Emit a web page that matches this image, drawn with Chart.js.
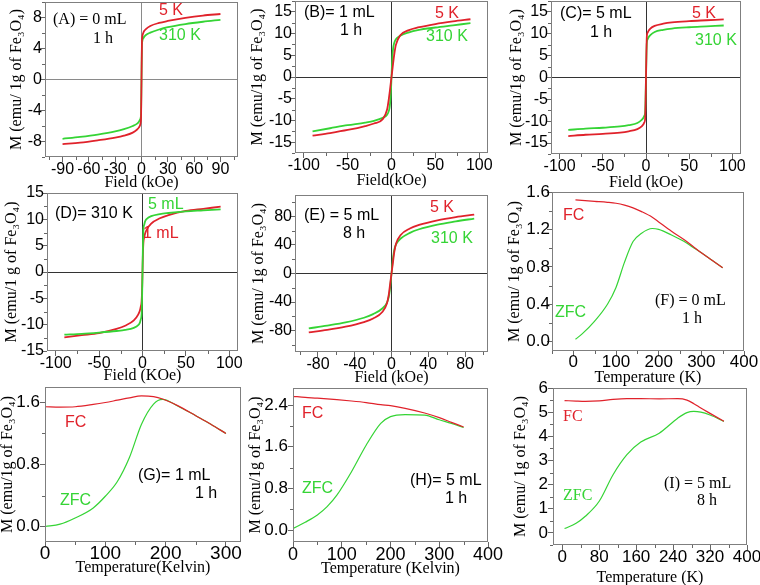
<!DOCTYPE html>
<html>
<head>
<meta charset="utf-8">
<title>Fe3O4 magnetization</title>
<script src="https://cdn.jsdelivr.net/npm/chart.js"></script>
<style>
  body { margin: 0; background: #fff; }
  #wrap { position: relative; width: 760px; height: 585px; overflow: hidden; }
  #wrap canvas { position: absolute; }
  .note { position: absolute; white-space: nowrap; line-height: 1; transform: translateY(-50%); font-size: 16px; }
  .sans { font-family: "Liberation Sans", Arial, sans-serif; }
  .serif { font-family: "Liberation Serif", "Times New Roman", serif; }
</style>
</head>
<body>
<div id="wrap"></div>
<script>
// field grid (kOe) for the hysteresis loops
const field = [-90, -70, -50, -30, -20, -10, -5, -3, -2, -1, -0.5, 0, 0.5, 1, 2, 3, 5, 10, 20, 30, 50, 70, 90];

const mA5K   = [-8.35, -8.15, -7.85, -7.5, -7.25, -6.85, -6.45, -6.2, -6.0, -5.6, -4.8, 0, 4.8, 5.6, 6.0, 6.25, 6.5, 6.9, 7.3, 7.55, 7.95, 8.25, 8.45];
const mA310K = [-7.65, -7.4, -7.1, -6.7, -6.4, -6.0, -5.7, -5.45, -5.25, -4.95, -4.3, 0, 4.3, 5.0, 5.3, 5.5, 5.75, 6.05, 6.45, 6.75, 7.15, 7.45, 7.7];
const mB5K   = [-13.5, -12.9, -12.2, -11.3, -10.7, -9.7, -7.5, -5.0, -3.4, -1.7, -0.85, 0, 0.85, 1.7, 3.4, 5.0, 7.4, 9.6, 10.8, 11.4, 12.2, 12.8, 13.3];
const mB310K = [-12.5, -11.8, -11.1, -10.5, -10.1, -9.4, -8.7, -7.8, -6.8, -4.5, -2.5, 0, 2.5, 4.5, 6.8, 7.8, 8.7, 9.5, 10.3, 10.8, 11.4, 11.9, 12.4];
const mC5K   = [-13.4, -13.1, -12.9, -12.6, -12.3, -11.8, -11.2, -10.7, -10.3, -9.5, -6.0, 0, 6.0, 9.5, 10.3, 10.7, 11.2, 11.8, 12.3, 12.6, 12.9, 13.1, 13.3];
const mC310K = [-12.0, -11.7, -11.5, -11.2, -10.9, -10.4, -9.7, -9.2, -8.8, -8.0, -5.0, 0, 5.0, 8.0, 8.8, 9.2, 9.7, 10.4, 10.9, 11.2, 11.5, 11.7, 11.9];
const mD5mL  = [-11.9, -11.75, -11.5, -11.2, -11.0, -10.6, -10.1, -9.6, -9.0, -8.0, -5.0, 0, 5.0, 8.0, 9.0, 9.6, 10.1, 10.6, 11.0, 11.2, 11.5, 11.7, 11.9];
const mD1mL  = [-12.4, -12.0, -11.6, -10.8, -10.2, -9.2, -8.1, -7.3, -6.6, -5.5, -3.5, 0, 3.5, 5.5, 6.6, 7.3, 8.1, 9.2, 10.2, 10.8, 11.6, 12.0, 12.4];
const mE5K   = [-82.5, -79, -74.5, -68, -63, -54, -42, -30, -20, -10, -5, 0, 5, 10, 20, 30, 42, 54, 63, 68, 74.5, 79, 82.5];
const mE310K = [-77, -73, -68.5, -62, -57, -49, -41, -33, -25, -14, -7, 0, 7, 14, 25, 33, 41, 49, 57, 62, 68.5, 73, 77];

// temperature sweeps (K)
const tempF = [5, 20, 50, 80, 100, 120, 140, 160, 185, 200, 230, 260, 280, 300, 325, 350];
const fcF   = [1.515, 1.51, 1.50, 1.49, 1.48, 1.46, 1.43, 1.39, 1.33, 1.28, 1.18, 1.09, 1.02, 0.95, 0.87, 0.79];
const zfcF  = [0.025, 0.08, 0.22, 0.40, 0.58, 0.85, 1.07, 1.16, 1.21, 1.20, 1.14, 1.07, 1.01, 0.95, 0.87, 0.79];
const tempG = [0, 25, 50, 80, 100, 120, 140, 160, 180, 195, 220, 250, 275, 300];
const fcG   = [1.545, 1.54, 1.545, 1.575, 1.60, 1.63, 1.66, 1.685, 1.675, 1.645, 1.56, 1.43, 1.32, 1.20];
const zfcG  = [0.0, 0.03, 0.11, 0.24, 0.39, 0.58, 0.89, 1.32, 1.58, 1.64, 1.555, 1.43, 1.32, 1.20];
const tempH = [0, 25, 50, 70, 90, 120, 150, 180, 200, 230, 270, 300, 325, 350];
const fcH   = [2.57, 2.55, 2.535, 2.52, 2.505, 2.48, 2.45, 2.41, 2.39, 2.34, 2.25, 2.16, 2.07, 1.98];
const zfcH  = [0.03, 0.15, 0.29, 0.45, 0.67, 1.12, 1.63, 2.05, 2.18, 2.22, 2.21, 2.12, 2.05, 1.97];
const tempI = [5, 30, 50, 80, 110, 140, 170, 210, 250, 270, 285, 300, 320, 350];
const fcI   = [5.48, 5.46, 5.45, 5.47, 5.53, 5.56, 5.56, 5.55, 5.56, 5.5, 5.35, 5.17, 4.95, 4.62];
const zfcI  = [0.18, 0.4, 0.69, 1.31, 2.41, 3.24, 3.76, 4.13, 4.75, 4.98, 5.03, 5.0, 4.88, 4.62];

// tick labels
const ticksA_x = [-90, -60, -30, 0, 30, 60, 90];
const ticksA_y = [-8, -4, 0, 4, 8];
const ticks100 = [-100, -50, 0, 50, 100];
const ticks15  = [-15, -10, -5, 0, 5, 10, 15];
const ticksE   = [-80, -40, 0, 40, 80];
const ticksT400 = [0, 100, 200, 300, 400];
const ticksF_y = [0, 0.4, 0.8, 1.2, 1.6];
const ticksG_x = [0, 100, 200, 300];
const ticksG_y = [0, 0.8, 1.6];
const ticksH_y = [0, 0.8, 1.6, 2.4];
const ticksI_x = [0, 80, 160, 240, 320, 400];
const ticksI_y = [0, 1, 2, 3, 4, 5, 6];

const RED = '#e0222b';
const GREEN = '#35d435';
const FRAME = '#7f7f7f';

const pts = (xs, ys) => xs.map((x, i) => ({ x: x, y: ys[i] }));

const panels = [
  { plot: { l: 45, t: 2, r: 238, b: 157 }, yt: 17, xt: 182, loop: true, zero: '#8a8a8a',
    x: [-110, 110], y: [-10, 10], xt_: ticksA_x, yt_: ticksA_y, dec: 0, xPad: -2, yPad: -2, xFont: 16, yFont: 16,
    xTitle: 'Field (kOe)', yTitle: 'M (emu/ 1g of Fe₃O₄)',
    series: [[field, mA5K, RED], [field, mA310K, GREEN]] },
  { plot: { l: 295, t: 1, r: 488, b: 153 }, yt: 258, xt: 180, loop: true, zero: '#333',
    x: [-110, 110], y: [-17.5, 17.5], xt_: ticks100, yt_: ticks15, dec: 0, xPad: -2, yPad: -2, xFont: 16, yFont: 16,
    xTitle: 'Field(kOe)', yTitle: 'M (emu/1g of Fe₃O₄)',
    series: [[field, mB5K, RED], [field, mB310K, GREEN]] },
  { plot: { l: 551, t: 1, r: 741, b: 154 }, yt: 517, xt: 182, loop: true, zero: '#333',
    x: [-110, 110], y: [-17.5, 17.5], xt_: ticks100, yt_: ticks15, dec: 0, xPad: -2, yPad: -2, xFont: 16, yFont: 16,
    xTitle: 'Field (kOe)', yTitle: 'M (emu/1g of Fe₃O₄)',
    series: [[field, mC5K, RED], [field, mC310K, GREEN]] },
  { plot: { l: 47, t: 193, r: 238, b: 351 }, yt: 12, xt: 375, loop: true, zero: '#333',
    x: [-110, 110], y: [-15, 15], xt_: ticks100, yt_: ticks15, dec: 0, xPad: -2, yPad: -2, xFont: 16, yFont: 16,
    xTitle: 'Field (KOe)', yTitle: 'M (emu/1 g of Fe₃O₄)',
    series: [[field, mD5mL, GREEN], [field, mD1mL, RED]] },
  { plot: { l: 295, t: 195, r: 488, b: 352 }, yt: 259, xt: 377, loop: true, zero: '#333',
    x: [-105, 105], y: [-110, 110], xt_: ticksE, yt_: ticksE, dec: 0, xPad: -2, yPad: -2, xFont: 16, yFont: 16,
    xTitle: 'Field (kOe)', yTitle: 'M (emu/ 1g of Fe₃O₄)',
    series: [[field, mE5K, RED], [field, mE310K, GREEN]] },
  { plot: { l: 552, t: 192, r: 744, b: 351 }, yt: 515, xt: 377, loop: false,
    x: [-50, 400], y: [-0.1, 1.6], xt_: ticksT400, yt_: ticksF_y, dec: 1, xPad: -4, yPad: -3, xFont: 17, yFont: 17,
    xTitle: 'Temperature (K)', yTitle: 'M (emu/ 1g of Fe₃O₄)',
    series: [[tempF, fcF, RED], [tempF, zfcF, GREEN]] },
  { plot: { l: 45, t: 387, r: 241, b: 542 }, yt: 8, xt: 567, loop: false,
    x: [0, 325], y: [-0.2, 1.8], xt_: ticksG_x, yt_: ticksG_y, dec: 1, xPad: -5, yPad: 0, xFont: 19, yFont: 17,
    xTitle: 'Temperature(Kelvin)', yTitle: 'M (emu/1g of Fe₃O₄)',
    series: [[tempG, fcG, RED], [tempG, zfcG, GREEN]] },
  { plot: { l: 293, t: 388, r: 488, b: 542 }, yt: 256, xt: 568, loop: false,
    x: [0, 400], y: [-0.23, 2.73], xt_: ticksT400, yt_: ticksH_y, dec: 1, xPad: -3, yPad: 0, xFont: 18, yFont: 17,
    xTitle: 'Temperature (Kelvin)', yTitle: 'M (emu/1g of Fe₃O₄)',
    series: [[tempH, fcH, RED], [tempH, zfcH, GREEN]] },
  { plot: { l: 553, t: 388, r: 747, b: 545 }, yt: 521, xt: 577, loop: false,
    x: [-20, 400], y: [-0.5, 6], xt_: ticksI_x, yt_: ticksI_y, dec: 0, xPad: -3, yPad: 0, xFont: 17, yFont: 17,
    xTitle: 'Temperature (K)', yTitle: 'M (emu/ 1g of Fe₃O₄)',
    series: [[tempI, fcI, RED], [tempI, zfcI, GREEN]] }
];

// text placed on the panels: [text, left, centre y, colour, font]
const notes = [
  ['(A) = 0 mL', 53, 19, '#000', 'serif'], ['1 h', 93, 38, '#000', 'serif'],
  ['5 K', 159, 10, RED, 'sans'], ['310 K', 159, 35, GREEN, 'sans'],
  ['(B)= 1 mL', 304, 12, '#000', 'sans'], ['1 h', 340, 30, '#000', 'sans'],
  ['5 K', 435, 13, RED, 'sans'], ['310 K', 426, 36, GREEN, 'sans'],
  ['(C)= 5 mL', 560, 13, '#000', 'sans'], ['1 h', 590, 32, '#000', 'sans'],
  ['5 K', 692, 13, RED, 'sans'], ['310 K', 695, 40, GREEN, 'sans'],
  ['(D)= 310 K', 55, 213, '#000', 'sans'], ['5 mL', 148, 204, GREEN, 'sans'], ['1 mL', 143, 233, RED, 'sans'],
  ['(E) = 5 mL', 304, 215, '#000', 'sans'], ['8 h', 343, 233, '#000', 'sans'],
  ['5 K', 430, 207, RED, 'sans'], ['310 K', 431, 238, GREEN, 'sans'],
  ['FC', 563, 215, RED, 'sans'], ['ZFC', 555, 312, GREEN, 'sans'],
  ['(F) = 0 mL', 655, 300, '#000', 'serif'], ['1 h', 682, 318, '#000', 'serif'],
  ['FC', 65, 422, RED, 'sans'], ['ZFC', 60, 500, GREEN, 'sans'],
  ['(G)= 1 mL', 138, 475, '#000', 'sans'], ['1 h', 195, 493, '#000', 'sans'],
  ['FC', 302, 413, RED, 'sans'], ['ZFC', 302, 488, GREEN, 'sans'],
  ['(H)= 5 mL', 410, 480, '#000', 'sans'], ['1 h', 445, 498, '#000', 'sans'],
  ['FC', 563, 416, RED, 'serif'], ['ZFC', 563, 495, GREEN, 'serif'],
  ['(I) = 5 mL', 664, 483, '#000', 'serif'], ['8 h', 697, 500, '#000', 'serif']
];

// box round the plot area plus Origin-style minor ticks
const framePlugin = {
  id: 'frame',
  afterDraw(chart) {
    const { ctx, chartArea: a, scales } = chart;
    ctx.save();
    ctx.strokeStyle = FRAME;
    ctx.lineWidth = 1;
    ctx.strokeRect(Math.round(a.left) + 0.5, Math.round(a.top) + 0.5,
                   Math.round(a.right - a.left) - 1, Math.round(a.bottom - a.top) - 1);
    ctx.strokeStyle = '#666';
    ctx.beginPath();
    for (const key of ['x', 'y']) {
      const s = scales[key];
      const vals = s.ticks.map(t => t.value);
      const half = (vals[1] - vals[0]) / 2;
      for (let v = vals[0] - half; v <= s.max + 1e-9; v += 2 * half) {
        if (v < s.min) continue;
        const p = Math.round(s.getPixelForValue(v)) + 0.5;
        if (key === 'x') { ctx.moveTo(p, a.bottom); ctx.lineTo(p, a.bottom + 3); }
        else { ctx.moveTo(a.left - 3, p); ctx.lineTo(a.left, p); }
      }
    }
    ctx.stroke();
    ctx.restore();
  }
};

const wrap = document.getElementById('wrap');
const PAD_T = 10, PAD_R = 16, HALF_TITLE = 9.6;

panels.forEach(p => {
  const left = Math.round(p.yt - HALF_TITLE);
  const top = p.plot.t - PAD_T;
  const bottom = Math.round(p.xt + HALF_TITLE);
  const w = p.plot.r + PAD_R - left;
  const h = bottom - top;
  const yW = p.plot.l - left;
  const xH = bottom - p.plot.b;

  const cv = document.createElement('canvas');
  cv.width = w; cv.height = h;
  cv.style.left = left + 'px'; cv.style.top = top + 'px';
  cv.style.width = w + 'px'; cv.style.height = h + 'px';
  wrap.appendChild(cv);

  const sans = '"Liberation Sans", Arial, sans-serif';
  const titleFont = { family: '"Liberation Serif", "Times New Roman", serif', size: 16 };
  const grid = {
    drawOnChartArea: p.loop,
    color: c => (p.loop && c.tick && c.tick.value === 0) ? p.zero : 'rgba(0,0,0,0)',
    tickColor: '#666', tickLength: 5, lineWidth: 1
  };
  const noPad = s => { s.paddingLeft = 0; s.paddingRight = 0; s.paddingTop = 0; s.paddingBottom = 0; };

  new Chart(cv.getContext('2d'), {
    type: 'line',
    data: {
      datasets: p.series.map(([xs, ys, col]) => ({
        data: pts(xs, ys),
        borderColor: col,
        borderWidth: p.loop ? 1.8 : 1.2,
        pointRadius: 0,
        fill: false,
        cubicInterpolationMode: 'monotone'
      }))
    },
    options: {
      responsive: false,
      animation: false,
      devicePixelRatio: 1,
      layout: { padding: { top: PAD_T, right: PAD_R, left: 0, bottom: 0 } },
      plugins: { legend: { display: false }, tooltip: { enabled: false } },
      scales: {
        x: {
          type: 'linear', min: p.x[0], max: p.x[1],
          afterBuildTicks: s => { s.ticks = p.xt_.map(v => ({ value: v })); },
          afterFit: s => { s.height = xH; noPad(s); },
          ticks: { font: { family: sans, size: p.xFont }, color: '#000', padding: p.xPad,
                   maxRotation: 0, minRotation: 0, autoSkip: false, callback: v => String(v) },
          grid: grid,
          border: { display: false },
          title: { display: true, text: p.xTitle, font: titleFont, color: '#000', padding: 0 }
        },
        y: {
          type: 'linear', min: p.y[0], max: p.y[1],
          afterBuildTicks: s => { s.ticks = p.yt_.map(v => ({ value: v })); },
          afterFit: s => { s.width = yW; noPad(s); },
          ticks: { font: { family: sans, size: p.yFont }, color: '#000', padding: p.yPad, autoSkip: false,
                   callback: v => v.toFixed(p.dec) },
          grid: grid,
          border: { display: false },
          title: { display: true, text: p.yTitle, font: titleFont, color: '#000', padding: 0 }
        }
      }
    },
    plugins: [framePlugin]
  });
});

notes.forEach(([t, x, y, col, font]) => {
  const d = document.createElement('div');
  d.className = 'note ' + font;
  d.textContent = t;
  d.style.left = x + 'px';
  d.style.top = y + 'px';
  d.style.color = col;
  wrap.appendChild(d);
});
</script>
</body>
</html>
